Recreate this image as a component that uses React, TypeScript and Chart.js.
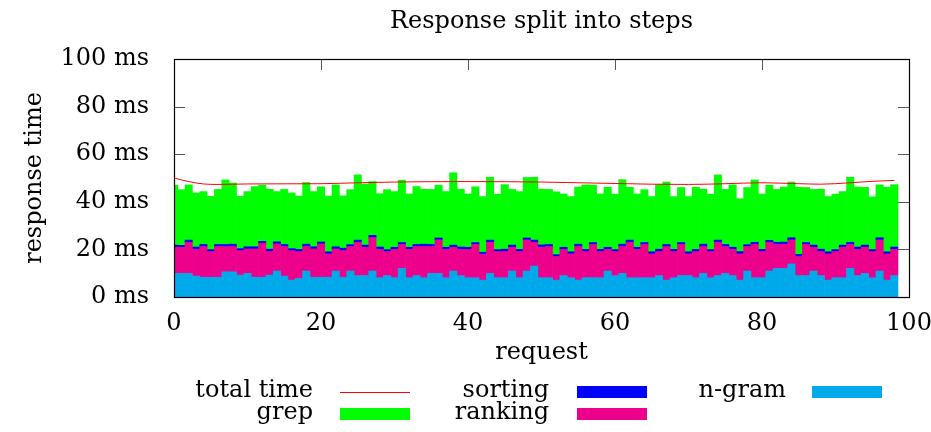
import React, { useEffect, useRef } from "react";
import { Chart, registerables } from "chart.js";

Chart.register(...registerables);

const TITLE = "Response split into steps";
const X_TITLE = "request";
const Y_TITLE = "response time";
const X_TICKS = [0, 20, 40, 60, 80, 100];
const Y_TICKS = [0, 20, 40, 60, 80, 100];

const ngram = [9.9,9.9,9.9,8.8,8.3,8.3,8.3,10.6,10.6,9.2,
9.9,8.3,8.3,9.2,10.9,8.8,7.1,7.8,10.9,8.3,
8.3,8.3,10.9,8.3,10.9,9.0,9.0,10.9,8.1,9.0,
8.1,12.0,8.1,9.0,8.1,9.9,9.9,8.1,10.9,9.0,
8.1,8.1,7.1,9.9,8.1,8.1,10.9,8.1,10.9,13.0,
8.1,8.1,7.1,9.0,8.1,7.1,8.1,8.1,8.1,10.9,
9.0,9.9,8.1,8.1,8.1,8.1,9.0,7.1,8.1,9.0,
9.0,8.1,9.9,8.1,9.0,9.9,9.0,7.1,10.9,8.1,
8.1,10.9,12.0,12.0,13.9,9.0,9.0,10.9,9.0,7.1,
8.1,8.1,12.0,9.0,9.9,8.1,10.9,7.1,9.0];

const ranking = [11.0,11.0,13.1,11.2,12.9,10.8,12.9,10.6,10.6,10.3,
10.3,11.9,14.3,9.9,11.4,12.4,12.4,11.3,10.3,11.9,
14.0,9.8,9.3,11.2,10.3,14.0,11.9,14.1,11.9,10.1,
11.9,10.1,11.9,12.2,13.1,11.3,14.1,11.9,10.0,11.0,
11.9,14.0,10.8,13.1,11.0,11.0,10.0,11.0,13.1,10.0,
12.8,13.1,9.9,11.0,10.0,14.1,11.0,14.0,11.0,9.1,
10.1,11.3,14.9,11.9,14.0,10.0,10.1,14.1,11.0,13.1,
9.1,11.0,11.3,11.0,14.0,11.3,11.0,11.0,10.3,14.0,
11.0,12.1,10.1,10.1,10.1,8.0,13.1,10.0,10.1,11.0,
11.0,12.8,10.1,11.0,11.0,11.0,13.1,11.0,11.0];

const sorting = [0.9,0.8,0.9,1.0,0.9,0.8,0.9,0.9,1.0,0.8,
0.9,0.9,0.8,1.0,0.9,0.9,0.8,0.9,1.0,0.9,
0.8,0.9,0.9,1.0,0.8,0.9,0.9,0.9,1.0,0.8,
0.9,0.8,0.9,0.9,1.0,0.9,0.8,0.9,0.9,1.0,
0.9,0.8,0.9,0.9,0.8,1.0,0.9,0.9,0.8,0.9,
1.0,0.9,0.8,0.9,0.9,1.0,0.9,0.8,0.9,0.9,
0.8,1.0,0.9,0.9,0.8,0.9,1.0,0.9,0.9,0.8,
0.9,0.9,1.0,0.8,0.9,0.9,0.9,1.0,0.8,0.9,
0.9,0.8,0.9,1.0,0.9,0.9,0.8,0.9,1.0,0.9,
0.8,0.9,0.9,1.0,0.9,0.8,0.9,0.9,1.0];

const grep = [25.2,23.4,23.2,22.7,22.2,22.4,23.1,27.1,25.7,22.0,
23.2,25.3,23.6,25.2,21.1,23.1,23.4,22.4,25.9,23.2,
23.2,23.4,26.0,22.0,23.1,27.4,25.7,22.6,22.4,25.2,
23.4,26.2,22.4,24.3,23.1,23.1,22.2,23.4,30.4,24.3,
22.4,23.4,23.4,26.4,23.3,27.1,23.4,24.3,25.4,26.4,
23.4,23.1,26.4,22.4,23.2,24.0,27.1,24.1,23.3,25.2,
23.3,27.1,22.2,22.4,22.2,23.2,27.1,26.2,22.2,23.1,
23.2,26.1,23.1,23.3,27.4,23.1,26.2,22.2,24.0,26.2,
23.3,23.2,22.2,23.1,23.4,28.2,23.1,23.4,25.2,23.2,
23.3,22.5,27.3,25.2,24.3,22.2,22.2,27.1,26.2];

const requests = ngram.map((_, i) => i);

const totalX = [0, 2, 4, 6, 10, 20, 25, 30, 40, 50, 55, 60, 65, 70, 75, 80, 85, 88, 92, 95, 98];
const totalY = [50.0, 48.5, 47.5, 47.3, 47.5, 47.6, 48.0, 48.3, 48.5, 48.3, 48.0, 47.7, 47.4, 47.3, 47.6, 48.0, 47.6, 47.4, 48.0, 48.6, 49.0];

const LEGEND_ORDER = ["total time", "grep", "sorting", "ranking", "n-gram"];

const FONT = "'DejaVu Serif', 'Liberation Serif', serif";
const FS = 24;

const frameTicks = {
  id: "frameTicks",
  beforeDatasetsDraw(chart: any) {
    const { ctx, chartArea: a, scales } = chart;
    const len = 11;
    ctx.save();
    ctx.strokeStyle = "#555";
    ctx.lineWidth = 1;
    ctx.beginPath();
    scales.x.ticks.forEach((t: any) => {
      const px = Math.round(scales.x.getPixelForValue(t.value)) + 0.5;
      ctx.moveTo(px, a.bottom); ctx.lineTo(px, a.bottom - len);
      ctx.moveTo(px, a.top); ctx.lineTo(px, a.top + len);
    });
    scales.y.ticks.forEach((t: any) => {
      const py = Math.round(scales.y.getPixelForValue(t.value)) + 0.5;
      ctx.moveTo(a.left, py); ctx.lineTo(a.left + len, py);
      ctx.moveTo(a.right, py); ctx.lineTo(a.right - len, py);
    });
    ctx.stroke();
    ctx.restore();
  },
  afterDatasetsDraw(chart: any) {
    const { ctx, chartArea: a } = chart;
    ctx.save();
    ctx.strokeStyle = "#000";
    ctx.lineWidth = 1.2;
    ctx.strokeRect(Math.round(a.left) + 0.5, Math.round(a.top) + 0.5, Math.round(a.right - a.left), Math.round(a.bottom - a.top));
    ctx.restore();
  },
};

const gnuText = {
  id: "gnuText",
  afterDraw(chart: any) {
    const { ctx, chartArea: a } = chart;
    ctx.save();
    ctx.font = `${FS}px ${FONT}`;
    ctx.fillStyle = "#000";
    ctx.textAlign = "center";
    ctx.textBaseline = "middle";
    ctx.fillText(TITLE, (a.left + a.right) / 2, 22);

    const textRight = [313, 549, 786];
    const sampleLeft = [340, 577, 812];
    const rows = [391, 413];
    ctx.textAlign = "right";
    LEGEND_ORDER.forEach((label, k) => {
      const col = Math.floor(k / 2);
      const row = k % 2;
      const ds = chart.data.datasets.find((d: any) => d.label === label);
      if (!ds) return;
      const y = rows[row];
      ctx.fillStyle = "#000";
      ctx.fillText(label, textRight[col], y);
      if (ds.type === "line") {
        ctx.strokeStyle = ds.borderColor;
        ctx.lineWidth = 1;
        ctx.beginPath();
        ctx.moveTo(sampleLeft[col], y + 1.5);
        ctx.lineTo(sampleLeft[col] + 70, y + 1.5);
        ctx.stroke();
      } else {
        ctx.fillStyle = ds.backgroundColor;
        ctx.fillRect(sampleLeft[col], y - 5, 70, 12);
      }
    });
    ctx.restore();
  },
};

export default function App() {
  const ref = useRef<HTMLCanvasElement | null>(null);
  useEffect(() => {
    if (!ref.current) return;
    const bar = (label: string, values: number[], color: string) => ({
      type: "bar" as const,
      label,
      data: values.map((v, i) => ({ x: requests[i], y: v })),
      backgroundColor: color,
      borderWidth: 0,
      barPercentage: 1,
      categoryPercentage: 1,
      order: 1,
    });
    const chart = new Chart(ref.current, {
      type: "bar",
      data: {
        datasets: [
          {
            type: "line",
            label: "total time",
            data: totalX.map((x, i) => ({ x, y: totalY[i] })),
            borderColor: "#ff0000",
            backgroundColor: "#ff0000",
            borderWidth: 1,
            pointRadius: 0,
            cubicInterpolationMode: "monotone",
            order: 0,
          } as any,
          bar("n-gram", ngram, "#00aaea"),
          bar("ranking", ranking, "#ec008c"),
          bar("sorting", sorting, "#0000ff"),
          bar("grep", grep, "#00ff00"),
        ],
      },
      options: {
        animation: false,
        responsive: true,
        maintainAspectRatio: false,
        layout: { padding: { left: 0, right: 22, top: 59, bottom: 65 } },
        plugins: {
          legend: { display: false },
          tooltip: { enabled: false },
          title: { display: false },
        },
        scales: {
          x: {
            type: "linear",
            min: 0,
            max: 100,
            offset: false,
            stacked: true,
            grid: { display: false, drawTicks: false },
            border: { display: false },
            afterBuildTicks: (s: any) => { s.ticks = X_TICKS.map((v) => ({ value: v })); },
            afterFit: (s: any) => { s.height = 70; s.paddingLeft = 0; s.paddingRight = 0; },
            ticks: { color: "#000", font: { family: FONT, size: FS }, padding: 12, maxRotation: 0 },
            title: { display: true, text: X_TITLE, color: "#000", font: { family: FONT, size: FS }, padding: { top: 0, bottom: 0 } },
          },
          y: {
            min: 0,
            max: 100,
            stacked: true,
            grid: { display: false, drawTicks: false },
            border: { display: false },
            afterBuildTicks: (s: any) => { s.ticks = Y_TICKS.map((v) => ({ value: v })); },
            afterFit: (s: any) => { s.width = 174; s.paddingTop = 0; s.paddingBottom = 0; },
            ticks: { color: "#000", font: { family: FONT, size: FS }, padding: 25, callback: (v: any) => `${v} ms` },
            title: { display: true, text: Y_TITLE, color: "#000", font: { family: FONT, size: FS }, padding: { top: 20, bottom: 0 } },
          },
        },
      },
      plugins: [frameTicks, gnuText],
    });
    return () => chart.destroy();
  }, []);
  return (
    <div style={{ position: "absolute", left: 0, top: 0, width: 931, height: 432, background: "#fff" }}>
      <canvas ref={ref} />
    </div>
  );
}
